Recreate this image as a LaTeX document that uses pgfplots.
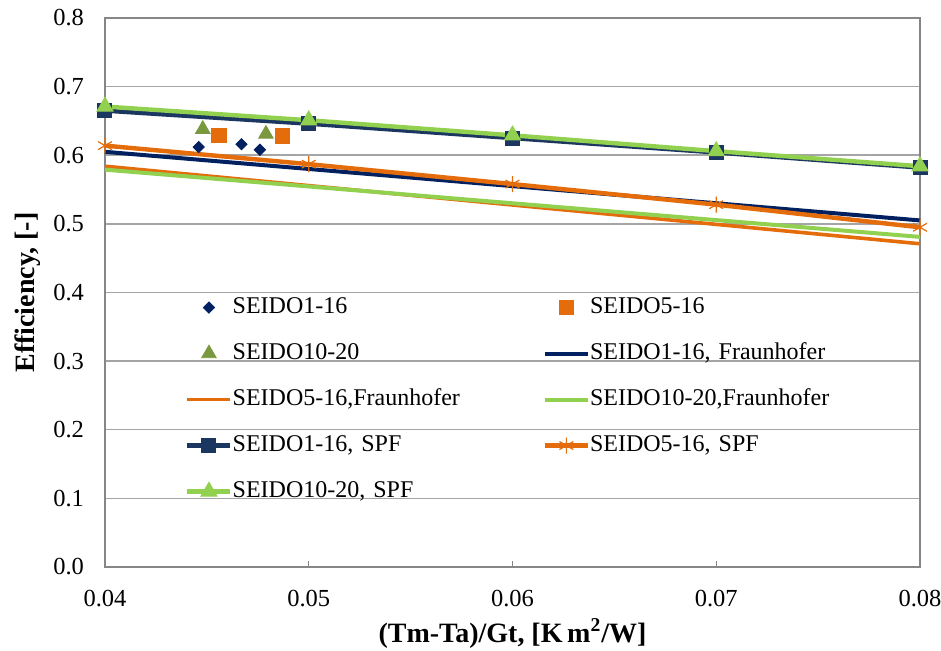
\documentclass[border=0pt]{standalone}
\usepackage{pgfplots}
\pgfplotsset{compat=1.18}
\usepackage{fontspec}
\setmainfont{Liberation Serif}
\definecolor{navyA}{RGB}{0,32,96}
\definecolor{navyB}{RGB}{28,54,98}
\definecolor{orangeA}{RGB}{228,108,10}
\definecolor{greenA}{RGB}{146,208,80}
\definecolor{oliveA}{RGB}{122,152,62}
\definecolor{gridgray}{RGB}{165,165,165}
\definecolor{axisgray}{RGB}{134,134,134}
\begin{document}
\begin{tikzpicture}
\begin{axis}[name=ax, scale only axis, width=407.5pt, height=274.5pt,
  xmin=0.04, xmax=0.08, ymin=0, ymax=0.8,
  xtick={0.04,0.05,0.06,0.07,0.08},
  ytick={0,0.1,0.2,0.3,0.4,0.5,0.6,0.7,0.8},
  scaled ticks=false,
  axis line style={axisgray, line width=0.75pt},
  ymajorgrids, grid style={gridgray, line width=0.75pt},
  tick pos=left, tick align=inside,
  ytick style={draw=none},
  xtick style={axisgray, line width=0.75pt},
  major tick length=3pt,
  /pgf/number format/assume math mode=true,
  tick label style={font=\fontsize{12.25}{14}\selectfont},
  yticklabel style={/pgf/number format/.cd, fixed, fixed zerofill, precision=1, /tikz/.cd, xshift=-7pt},
  xticklabel style={/pgf/number format/.cd, fixed, fixed zerofill, precision=2, /tikz/.cd, yshift=-8pt},
  label style={font=\fontsize{14}{16}\selectfont\bfseries},
  xlabel={(Tm-Ta)/Gt, [K\,m\textsuperscript{2}/W]},
  ylabel={Efficiency, [-]},
  xlabel style={at={(axis description cs:0.5,-0.121)}, anchor=center},
  ylabel style={at={(axis description cs:-0.0945,0.5)}, anchor=center},
  legend columns=2, legend cell align=left,
  legend style={draw=none, fill=none, at={(axis description cs:0.098,0.497)}, anchor=north west,
    inner sep=0pt, row sep=10pt, column sep=0pt, font=\fontsize{12}{14}\selectfont,
    nodes={inner xsep=0pt, inner ysep=1pt, text height=8.5pt, text depth=2.5pt, text width=155pt}},
  legend image code/.code={\draw[mark repeat=2,mark phase=2,#1] plot coordinates {(0pt,0pt) (10.75pt,0pt) (21.5pt,0pt)};},
]
% measured points
\addplot[only marks, mark=square*, mark size=2pt, mark options={rotate=45, fill=navyA, draw=navyA}]
  coordinates {(0.0446,0.612) (0.0467,0.616) (0.0476,0.608)};
\addlegendentry{SEIDO1-16}
\addplot[only marks, mark=square*, mark size=3.6pt, mark options={fill=orangeA, draw=orangeA}]
  coordinates {(0.0456,0.629) (0.0487,0.628)};
\addlegendentry{SEIDO5-16}
\addplot[only marks, mark=triangle*, mark size=4.2pt, mark options={fill=oliveA, draw=oliveA}]
  coordinates {(0.0448,0.638) (0.0479,0.631)};
\addlegendentry{SEIDO10-20}
% Fraunhofer lines
\addplot[navyA, line width=2pt, no marks] coordinates {(0.04,0.605) (0.08,0.505)};
\addlegendentry{SEIDO1-16, Fraunhofer}
\addplot[orangeA, line width=1.8pt, no marks] coordinates {(0.04,0.584) (0.08,0.471)};
\addlegendentry{SEIDO5-16,Fraunhofer}
\addplot[greenA, line width=2pt, no marks] coordinates {(0.04,0.579) (0.08,0.481)};
\addlegendentry{SEIDO10-20,Fraunhofer}
% SPF
\addplot[navyB, line width=2.2pt, mark=square*, mark size=3.5pt, mark options={solid, line width=0.5pt, fill=navyB, draw=navyB}]
  coordinates {(0.04,0.665) (0.05,0.646) (0.06,0.625) (0.07,0.604) (0.08,0.582)};
\addlegendentry{SEIDO1-16, SPF}
\addplot[orangeA, line width=2.2pt, mark=asterisk, mark size=4pt, mark options={solid, line width=0.6pt, draw=orangeA}]
  coordinates {(0.04,0.614) (0.05,0.587) (0.06,0.558) (0.07,0.528) (0.08,0.495)};
\addlegendentry{SEIDO5-16, SPF}
\addplot[greenA, line width=2.2pt, mark=triangle*, mark size=4.6pt, mark options={solid, line width=0.5pt, fill=greenA, draw=greenA}]
  coordinates {(0.04,0.671) (0.05,0.651) (0.06,0.629) (0.07,0.606) (0.08,0.584)};
\addlegendentry{SEIDO10-20, SPF}
\end{axis}
\pgfresetboundingbox
\path ([shift={(-52.5pt,-42pt)}]ax.south west) rectangle ([shift={(10.5pt,9pt)}]ax.north east);
\end{tikzpicture}
\end{document}
